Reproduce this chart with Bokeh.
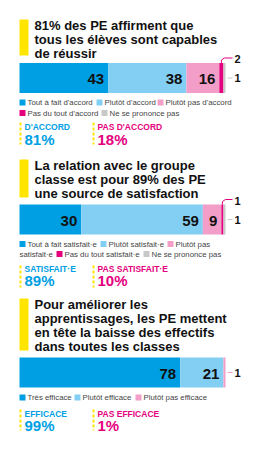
from bokeh.plotting import figure
from bokeh.models import Range1d
from bokeh.core.properties import value
from bokeh.embed import file_html
from bokeh.resources import INLINE
import numpy as np

# ---------------- DATA ----------------
q1_title = ["81% des PE affirment que", "tous les élèves sont capables", "de réussir"]
q1_cats = ["Tout à fait d'accord", "Plutôt d'accord", "Plutôt pas d'accord", "Pas du tout d'accord", "Ne se prononce pas"]
q1_vals = [43, 38, 16, 2, 1]
q1_sum_labels = ["D'ACCORD", "PAS D'ACCORD"]
q1_sum_vals = [81, 18]

q2_title = ["La relation avec le groupe", "classe est pour 89% des PE", "une source de satisfaction"]
q2_cats = ["Tout à fait satisfait·e", "Plutôt satisfait·e", "Plutôt pas satisfait·e", "Pas du tout satisfait·e", "Ne se prononce pas"]
q2_vals = [30, 59, 9, 1, 1]
q2_sum_labels = ["SATISFAIT·E", "PAS SATISFAIT·E"]
q2_sum_vals = [89, 10]

q3_title = ["Pour améliorer les", "apprentissages, les PE mettent", "en tête la baisse des effectifs", "dans toutes les classes"]
q3_cats = ["Très efficace", "Plutôt efficace", "Plutôt pas efficace"]
q3_vals = [78, 21, 1]
q3_sum_labels = ["EFFICACE", "PAS EFFICACE"]
q3_sum_vals = [99, 1]

# ---------------- STYLE / LAYOUT ----------------
C_DBLUE = "#009fe3"
C_LBLUE = "#83cff4"
C_LPINK = "#f29ec8"
C_MAG = "#e5007e"
C_GREY = "#c8c8c8"
C_YEL = "#ffe500"
seg_colors = [C_DBLUE, C_LBLUE, C_LPINK, C_MAG, C_GREY]
FONT = value("Liberation Sans")

W, H = 263, 450
X0 = 19.0          # pixel where 0% sits
SCALE = 2.06       # pixels per percent


def px(p):
    """pixel column -> data x (percent units)"""
    return (p - X0) / SCALE


p = figure(width=W, height=H, x_range=Range1d(px(0), px(W)), y_range=Range1d(H, 0),
           x_axis_type=None, y_axis_type=None, toolbar_location=None,
           output_backend="svg", min_border=0)
p.outline_line_color = None
p.background_fill_color = "white"
p.border_fill_color = "white"
p.grid.visible = False


def title(lines, y_first, bar_top, bar_bot):
    p.quad(left=[px(19)], right=[px(28)], top=[bar_top], bottom=[bar_bot],
           fill_color=C_YEL, line_color=None)
    ys = [y_first + 14.1 * i for i in range(len(lines))]
    p.text(x=[px(34)] * len(lines), y=ys, text=lines, text_font=FONT,
           text_font_size="13px", text_font_style="bold", text_color="#111111",
           text_baseline="middle", text_align="left")


def bar(vals, yc, callout_top=None, callout_mid=None, mid_color=C_GREY, colors=seg_colors):
    vals = np.array(vals, dtype=float)
    right = np.cumsum(vals)
    left = right - vals
    p.hbar(y=[yc] * len(vals), height=30, left=left, right=right,
           fill_color=colors[:len(vals)], line_color=None)
    big = vals >= 5
    p.text(x=right[big], y=[yc + 1] * int(big.sum()), text=[str(int(v)) for v in vals[big]],
           x_offset=-4, text_font=FONT, text_font_size="15px", text_font_style="bold",
           text_color="#111111", text_baseline="middle", text_align="right")
    top = yc - 15
    if callout_top is not None:
        i = callout_top
        xm = (left[i] + right[i]) / 2
        p.line(x=[xm, xm, xm + px(22) - px(19), px(232)],
               y=[top, top - 3, top - 5, top - 5], line_color=C_MAG, line_width=1)
        p.text(x=[px(234)], y=[top - 4], text=[str(int(vals[i]))], text_font=FONT,
               text_font_size="11px", text_font_style="bold", text_color="#111111",
               text_baseline="middle", text_align="left")
    if callout_mid is not None:
        i = callout_mid
        p.line(x=[right[-1] + px(21) - px(19), px(232)], y=[yc, yc], line_color=mid_color, line_width=1)
        p.text(x=[px(234)], y=[yc], text=[str(int(vals[i]))], text_font=FONT,
               text_font_size="11px", text_font_style="bold", text_color="#111111",
               text_baseline="middle", text_align="left")


def legend(items, colors, xs, ys):
    sq_x, sq_y, sq_c, tx, ty, tt = [], [], [], [], [], []
    for t, c, x, y in zip(items, colors, xs, ys):
        if c is None:
            tx.append(px(x)); ty.append(y); tt.append(t)
        else:
            sq_x.append(px(x + 3)); sq_y.append(y); sq_c.append(c)
            tx.append(px(x + 8)); ty.append(y); tt.append(t)
    p.scatter(x=sq_x, y=sq_y, marker="square", size=6, fill_color=sq_c, line_color=None)
    p.text(x=tx, y=ty, text=tt, text_font=FONT, text_font_size="7.8px",
           text_color="#444444", text_baseline="middle", text_align="left")


def summary(labels, vals, y_lab, y_val, y0, y1):
    xs = [19, 92]
    p.segment(x0=[px(x + 1) for x in xs], x1=[px(x + 1) for x in xs], y0=[y0] * 2, y1=[y1] * 2,
              line_color=C_YEL, line_width=2, line_dash="3 2")
    cols = [C_DBLUE, C_MAG]
    p.text(x=[px(x + 5) for x in xs], y=[y_lab] * 2, text=labels, text_font=FONT,
           text_font_size="8.5px", text_font_style="bold", text_color=cols,
           text_baseline="middle", text_align="left")
    p.text(x=[px(x + 5) for x in xs], y=[y_val + 1] * 2, text=[f"{v}%" for v in vals],
           text_font=FONT, text_font_size="15px", text_font_style="bold", text_color=cols,
           text_baseline="middle", text_align="left")


# ---------------- SECTION 1 ----------------
title(q1_title, 25, 19, 55)
bar(q1_vals, 77.5, callout_top=3, callout_mid=4)
legend(q1_cats, seg_colors, [19, 96, 157, 19, 101], [102, 102, 102, 112.5, 112.5])
summary(q1_sum_labels, q1_sum_vals, 126, 137.5, 122, 144)

# ---------------- SECTION 2 ----------------
title(q2_title, 164.5, 159, 197)
bar(q2_vals, 219, callout_top=3, callout_mid=4)
leg2 = ["Tout à fait satisfait·e", "Plutôt satisfait·e", "Plutôt pas", "satisfait·e",
        "Pas du tout satisfait·e", "Ne se prononce pas"]
legend(leg2, [C_DBLUE, C_LBLUE, C_LPINK, None, C_MAG, C_GREY],
       [19, 100, 167, 19, 56, 143], [243.5, 243.5, 243.5, 253.5, 253.5, 253.5])
summary(q2_sum_labels, q2_sum_vals, 268.5, 279, 265, 287)

# ---------------- SECTION 3 ----------------
title(q3_title, 303.5, 298, 350)
bar(q3_vals, 372, callout_mid=2, mid_color=C_LPINK, colors=[C_DBLUE, C_LBLUE, C_LPINK])
legend(q3_cats, [C_DBLUE, C_LBLUE, C_LPINK], [19, 74, 135], [397, 397, 397])
summary(q3_sum_labels, q3_sum_vals, 413, 423.5, 409, 430)

open("out.html", "w").write(file_html(p, INLINE))
